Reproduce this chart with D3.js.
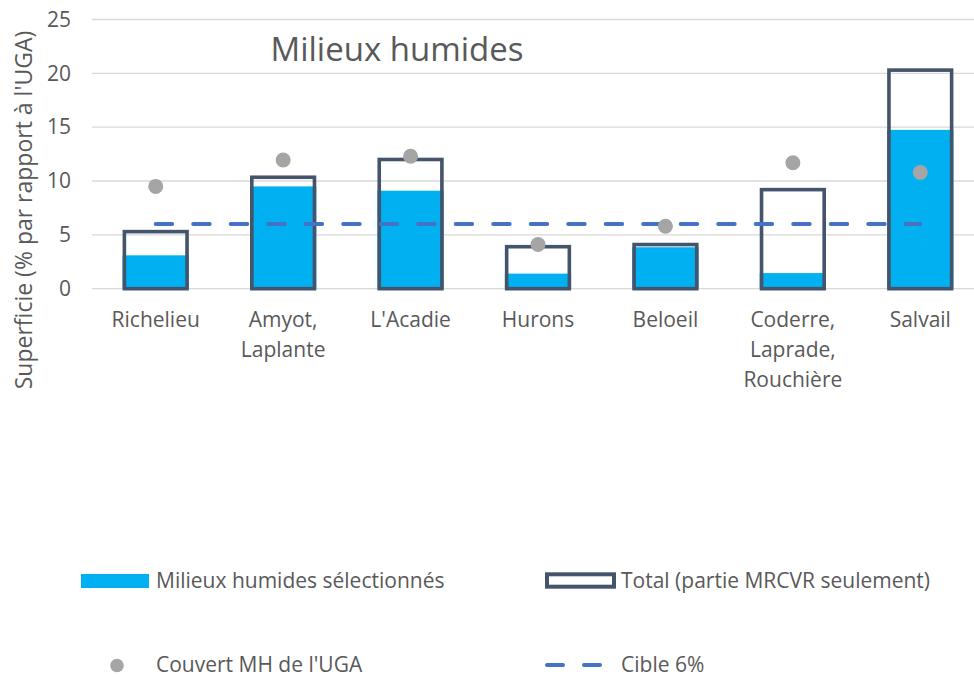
<!DOCTYPE html>
<html>
<head>
<meta charset="utf-8">
<script src="https://cdn.jsdelivr.net/npm/d3@7"></script>
<style>
  html, body { margin: 0; padding: 0; background: #fff; }
  svg { display: block; font-family: "Open Sans", sans-serif; }
</style>
</head>
<body>
<svg id="chart" width="974" height="677"></svg>
<script>
// Unités de gestion (UGA) et valeurs en % de la superficie
const categories = ["Richelieu", "Amyot,\nLaplante", "L'Acadie", "Hurons", "Beloeil", "Coderre,\nLaprade,\nRouchière", "Salvail"];
const selectionnes = [3.1, 9.5, 9.1, 1.4, 3.85, 1.45, 14.75];
const total = [5.3, 10.35, 12.0, 3.9, 4.1, 9.2, 20.3];
const couvert = [9.5, 11.95, 12.3, 4.1, 5.8, 11.7, 10.8];
const cible = 6;
const yTicks = [0, 5, 10, 15, 20, 25];

const svg = d3.select("#chart");
const textColor = "#595959";
const fs = "21px";
const W = 974;
const plotLeft = 92, plotRight = 984;

const x = d3.scaleBand()
  .domain(categories)
  .range([plotLeft, plotRight])
  .paddingInner(0.48)
  .paddingOuter(0.24);

const y = d3.scaleLinear().domain([0, 25]).range([288.7, 19.5]);

// Quadrillage horizontal
svg.append("g")
  .selectAll("line")
  .data(yTicks)
  .join("line")
  .attr("x1", plotLeft)
  .attr("x2", W)
  .attr("y1", d => y(d))
  .attr("y2", d => y(d))
  .attr("stroke", "#d9d9d9")
  .attr("stroke-width", 1.3);

// Axe Y (étiquettes seulement)
const yAxis = svg.append("g")
  .attr("transform", "translate(71,0)")
  .call(d3.axisLeft(y).tickValues(yTicks).tickSize(0).tickPadding(0));
yAxis.select(".domain").remove();
yAxis.selectAll("text")
  .attr("fill", textColor)
  .style("font-size", fs)
  .style("font-family", "'Open Sans', sans-serif");

// Titre de l'axe Y
svg.append("text")
  .attr("transform", "translate(32,210) rotate(-90)")
  .attr("text-anchor", "middle")
  .attr("fill", textColor)
  .style("font-size", "23px")
  .text("Superficie (% par rapport à l'UGA)");

// Titre
svg.append("text")
  .attr("x", 397)
  .attr("y", 60.5)
  .attr("text-anchor", "middle")
  .attr("fill", textColor)
  .style("font-size", "33px")
  .text("Milieux humides");

// Barres : milieux humides sélectionnés
svg.append("g")
  .selectAll("rect")
  .data(categories)
  .join("rect")
  .attr("x", d => x(d))
  .attr("width", x.bandwidth())
  .attr("y", (d, i) => y(selectionnes[i]))
  .attr("height", (d, i) => y(0) - y(selectionnes[i]))
  .attr("fill", "#00b0f0");

// Barres : total (contour centré sur le bord de la barre)
const sw = 3.6;
svg.append("g")
  .selectAll("rect")
  .data(categories)
  .join("rect")
  .attr("x", d => x(d) + sw / 2)
  .attr("width", x.bandwidth() - sw)
  .attr("y", (d, i) => y(total[i]))
  .attr("height", (d, i) => y(0) - y(total[i]))
  .attr("fill", "none")
  .attr("stroke", "#44546a")
  .attr("stroke-width", sw);

// Ligne cible 6 %
const cx = d => x(d) + x.bandwidth() / 2;
svg.append("line")
  .attr("x1", cx(categories[0]))
  .attr("x2", cx(categories[categories.length - 1]))
  .attr("y1", y(cible))
  .attr("y2", y(cible))
  .attr("stroke", "#4472c4")
  .attr("stroke-width", 4)
  .attr("stroke-linecap", "round")
  .attr("stroke-dasharray", "16.5 21");

// Points : couvert MH de l'UGA
svg.append("g")
  .selectAll("circle")
  .data(categories)
  .join("circle")
  .attr("cx", d => cx(d))
  .attr("cy", (d, i) => y(couvert[i]))
  .attr("r", 7.5)
  .attr("fill", "#a5a5a5");

// Étiquettes de l'axe X (multi-lignes)
const xl = svg.append("g");
categories.forEach(c => {
  const t = xl.append("text")
    .attr("text-anchor", "middle")
    .attr("fill", textColor)
    .style("font-size", fs);
  c.split("\n").forEach((line, k) => {
    t.append("tspan")
      .attr("x", cx(c))
      .attr("y", 326.5 + k * 30)
      .text(line);
  });
});

// Légende
const leg = svg.append("g").style("font-size", fs).attr("fill", textColor);
leg.append("rect").attr("x", 81).attr("y", 574).attr("width", 68).attr("height", 14).attr("fill", "#00b0f0");
leg.append("text").attr("x", 156).attr("y", 588).text("Milieux humides sélectionnés");
leg.append("rect").attr("x", 547).attr("y", 574.3).attr("width", 67).attr("height", 12.4)
  .attr("fill", "none").attr("stroke", "#44546a").attr("stroke-width", 4);
leg.append("text").attr("x", 621).attr("y", 588).text("Total (partie MRCVR seulement)");
leg.append("circle").attr("cx", 117).attr("cy", 665.5).attr("r", 6.8).attr("fill", "#a5a5a5");
leg.append("text").attr("x", 156).attr("y", 672).text("Couvert MH de l'UGA");
leg.append("line").attr("x1", 547).attr("x2", 600).attr("y1", 665).attr("y2", 665)
  .attr("stroke", "#4472c4").attr("stroke-width", 4).attr("stroke-linecap", "round")
  .attr("stroke-dasharray", "16 21");
leg.append("text").attr("x", 621).attr("y", 672).text("Cible 6%");
</script>
</body>
</html>
